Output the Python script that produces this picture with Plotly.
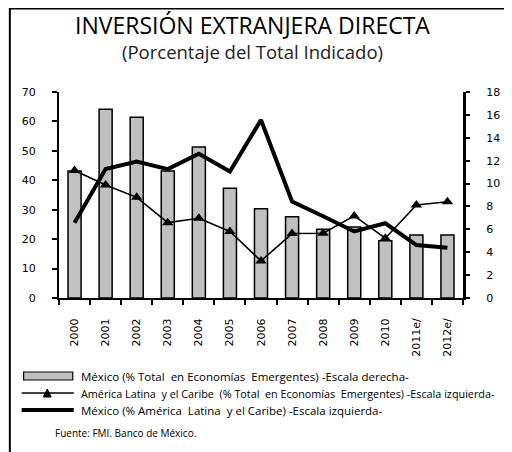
import plotly.graph_objects as go

years = ["2000", "2001", "2002", "2003", "2004", "2005", "2006", "2007", "2008", "2009", "2010", "2011e/", "2012e/"]
mex_emergentes = [11.1, 16.5, 15.8, 11.1, 13.2, 9.6, 7.8, 7.1, 6.0, 6.2, 5.0, 5.5, 5.5]
alc_emergentes = [43.3, 38.4, 34.2, 25.6, 27.1, 22.6, 12.6, 21.9, 22.0, 27.9, 20.3, 31.6, 32.7]
mex_alc = [25.6, 43.8, 46.4, 43.8, 49.0, 43.0, 60.5, 32.8, 27.8, 22.6, 25.4, 18.0, 17.1]

legend_labels = [
    "México (% Total  en Economías  Emergentes) -Escala derecha-",
    "América Latina  y el Caribe  (% Total  en Economías  Emergentes) -Escala izquierda-",
    "México (% América  Latina  y el Caribe) -Escala izquierda-",
]
legend_sizes = [11.5, 10.8, 11.5]
title_text = "INVERSIÓN EXTRANJERA DIRECTA"
subtitle_text = "(Porcentaje del Total Indicado)"
source_text = "Fuente: FMI. Banco de México."

OFF = 8  # page body margin
W, H = 512 - OFF, 452 - OFF
L, R, T, B = 59 - OFF, 470 - OFF, 92 - OFF, 298 - OFF
pw, ph = R - L, B - T

def px(x):
    return (x - OFF - L) / pw

def py(y):
    return (B - (y - OFF)) / ph

FONT_T = "Open Sans"
FONT_A = "DejaVu Sans"

fig = go.Figure()
fig.add_trace(go.Bar(x=years, y=mex_emergentes, yaxis="y", width=0.42,
                     marker=dict(color="#c0c0c0", line=dict(color="black", width=1.5)),
                     showlegend=False))
fig.add_trace(go.Scatter(x=years, y=alc_emergentes, yaxis="y2", mode="lines+markers",
                         line=dict(color="black", width=1.6),
                         marker=dict(symbol="triangle-up", size=10, color="black"),
                         showlegend=False))
fig.add_trace(go.Scatter(x=years, y=mex_alc, yaxis="y2", mode="lines",
                         line=dict(color="black", width=4),
                         showlegend=False))

shapes = []
annotations = []
# outer frame
shapes.append(dict(type="rect", xref="paper", yref="paper",
                   x0=px(9), x1=px(530), y0=py(470), y1=py(8.5),
                   line=dict(color="black", width=2)))
# legend symbols
shapes.append(dict(type="rect", xref="paper", yref="paper",
                   x0=px(23), x1=px(73), y0=py(380), y1=py(372),
                   fillcolor="#c0c0c0", line=dict(color="black", width=1.2)))
shapes.append(dict(type="line", xref="paper", yref="paper",
                   x0=px(21), x1=px(74), y0=py(393), y1=py(393),
                   line=dict(color="black", width=1.6)))
shapes.append(dict(type="path", xref="paper", yref="paper",
                   path=f"M {px(43)} {py(397)} L {px(51)} {py(397)} L {px(47)} {py(389)} Z",
                   fillcolor="black", line=dict(color="black", width=1)))
shapes.append(dict(type="line", xref="paper", yref="paper",
                   x0=px(21), x1=px(74), y0=py(410), y1=py(410),
                   line=dict(color="black", width=4)))

annotations.append(dict(text=title_text, x=px(256), y=py(25), xref="paper", yref="paper",
                        showarrow=False, font=dict(family=FONT_T, size=23, color="black"),
                        xanchor="center", yanchor="middle"))
annotations.append(dict(text=subtitle_text, x=px(256), y=py(51), xref="paper", yref="paper",
                        showarrow=False, font=dict(family=FONT_T, size=18.5, color="#222"),
                        xanchor="center", yanchor="middle"))
for lab, yy, fs in zip(legend_labels, [376, 393, 410], legend_sizes):
    annotations.append(dict(text=lab, x=px(79), y=py(yy), xref="paper", yref="paper",
                            showarrow=False, font=dict(family=FONT_T, size=fs, color="black"),
                            xanchor="left", yanchor="middle"))
annotations.append(dict(text=source_text, x=px(53), y=py(433), xref="paper", yref="paper",
                        showarrow=False, font=dict(family=FONT_T, size=10, color="black"),
                        xanchor="left", yanchor="middle"))

fig.update_layout(
    width=W, height=H,
    margin=dict(l=L, r=W - R, t=T, b=H - B, pad=0),
    paper_bgcolor="white", plot_bgcolor="white",
    showlegend=False,
    xaxis=dict(type="category", tickson="boundaries", ticks="outside", ticklen=5,
               tickwidth=1.5, tickcolor="black", showline=True, linecolor="black", linewidth=2,
               showgrid=False, tickangle=-90, ticklabelstandoff=14,
               tickfont=dict(family=FONT_A, size=11, color="black"), range=[-0.5, 12.5]),
    yaxis=dict(side="right", range=[0, 18], dtick=2, ticks="outside", ticklen=4, tickwidth=2,
               tickcolor="black", showline=True, linecolor="black", linewidth=3,
               showgrid=False, zeroline=False, ticklabelstandoff=14,
               tickfont=dict(family=FONT_A, size=11, color="black")),
    yaxis2=dict(side="left", overlaying="y", range=[0, 70], dtick=10, ticks="outside",
                ticklen=5, tickwidth=1.5, tickcolor="black", showline=True, linecolor="black",
                linewidth=2, showgrid=False, zeroline=False, ticklabelstandoff=14,
                tickfont=dict(family=FONT_A, size=11, color="black")),
    shapes=shapes, annotations=annotations,
)

fig.write_html("out.html")
